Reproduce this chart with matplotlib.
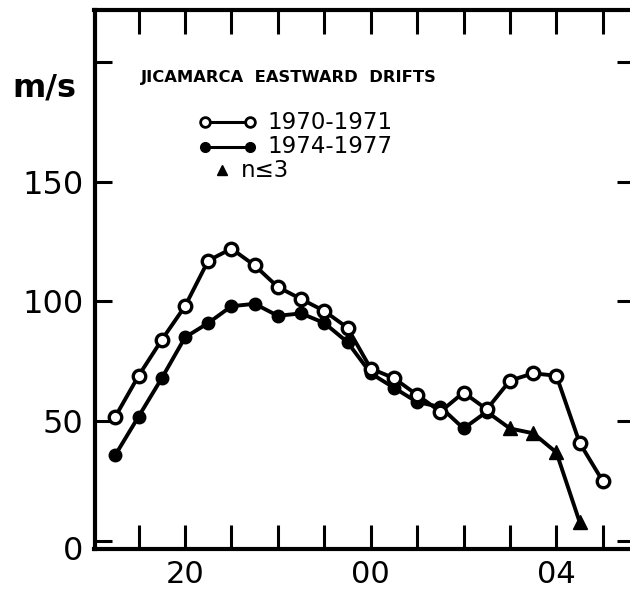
import matplotlib
matplotlib.use('Agg')
import matplotlib.pyplot as plt
from matplotlib.transforms import ScaledTranslation

# local time in hours after midnight of the first day (24 = 00 LT)
hours_7071 = [18.5, 19.0, 19.5, 20.0, 20.5, 21.0, 21.5, 22.0, 22.5, 23.0, 23.5,
              24.0, 24.5, 25.0, 25.5, 26.0, 26.5, 27.0, 27.5, 28.0, 28.5, 29.0]
drift_7071 = [52, 69, 84, 98, 117, 122, 115, 106, 101, 96, 89,
              72, 68, 61, 54, 62, 55, 67, 70, 69, 41, 25]

hours_7477 = [18.5, 19.0, 19.5, 20.0, 20.5, 21.0, 21.5, 22.0, 22.5, 23.0, 23.5,
              24.0, 24.5, 25.0, 25.5, 26.0, 26.5]
drift_7477 = [36, 52, 68, 85, 91, 98, 99, 94, 95, 91, 83,
              70, 64, 58, 56, 47, 54]

# 1974-1977 points with few samples (n <= 3)
hours_few = [26.5, 27.0, 27.5, 28.0, 28.5]
drift_few = [54, 47, 45, 37, 8]

tick_hours = [20, 24, 28]
tick_labels = ['20', '00', '04']
y_ticks = [0, 50, 100, 150]

fig = plt.figure(figsize=(6.3, 5.94), dpi=100)
ax = fig.add_axes([0.150, 0.076, 0.857, 0.907])

lw = 2.8
ax.plot(hours_few, drift_few, color='black', lw=lw, marker='^', ms=10,
        markevery=list(range(1, len(hours_few))), zorder=3)
ax.plot(hours_7477, drift_7477, color='black', lw=lw, marker='o', ms=9, zorder=3)
ax.plot(hours_7071, drift_7071, color='black', lw=lw, marker='o', ms=9,
        mfc='white', mec='black', mew=2.4, zorder=4)

ax.set_xlim(18.05, 29.68)
ax.set_ylim(-3.2, 221.5)

# hourly ticks, labels only at 20, 00, 04
ax.set_xticks(range(19, 30))
ax.set_xticklabels([tick_labels[tick_hours.index(h)] if h in tick_hours else ''
                    for h in range(19, 30)])
ax.set_yticks([0, 50, 100, 150, 200])
ax.set_yticklabels([str(v) for v in y_ticks] + [''])
ax.tick_params(axis='x', direction='in', length=17, width=2.2, top=True,
               labelsize=22, pad=8)
ax.tick_params(axis='y', direction='in', length=12, width=2.2, right=True,
               labelsize=23, pad=8)
for s in ax.spines.values():
    s.set_linewidth(3)

# the "0" sits level with the bottom frame in the original
zero_lbl = ax.get_yticklabels()[0]
zero_lbl.set_transform(zero_lbl.get_transform()
                       + ScaledTranslation(0, -0.07, fig.dpi_scale_trans))

fig.text(44 / 630, 1 - 88 / 594, 'm/s', fontsize=23, fontweight='bold',
         ha='center', va='center')

ax.text(0.36, 0.874, 'JICAMARCA  EASTWARD  DRIFTS', transform=ax.transAxes,
        fontsize=11.8, fontweight='bold', ha='center', va='center')

# hand drawn legend
ax.plot([0.205, 0.288], [0.792, 0.792], transform=ax.transAxes, color='black',
        lw=2.2, marker='o', ms=7, mfc='white', mew=2, clip_on=False)
ax.text(0.321, 0.792, '1970-1971', transform=ax.transAxes, fontsize=16.5,
        va='center')
ax.plot([0.205, 0.288], [0.746, 0.746], transform=ax.transAxes, color='black',
        lw=2.2, marker='o', ms=7, clip_on=False)
ax.text(0.321, 0.746, '1974-1977', transform=ax.transAxes, fontsize=16.5,
        va='center')
ax.plot([0.236], [0.703], transform=ax.transAxes, color='black', marker='^',
        ms=7, clip_on=False)
ax.text(0.272, 0.703, 'n≤3', transform=ax.transAxes, fontsize=16.5,
        va='center')

plt.savefig('out.png', dpi=100)
plt.close()
